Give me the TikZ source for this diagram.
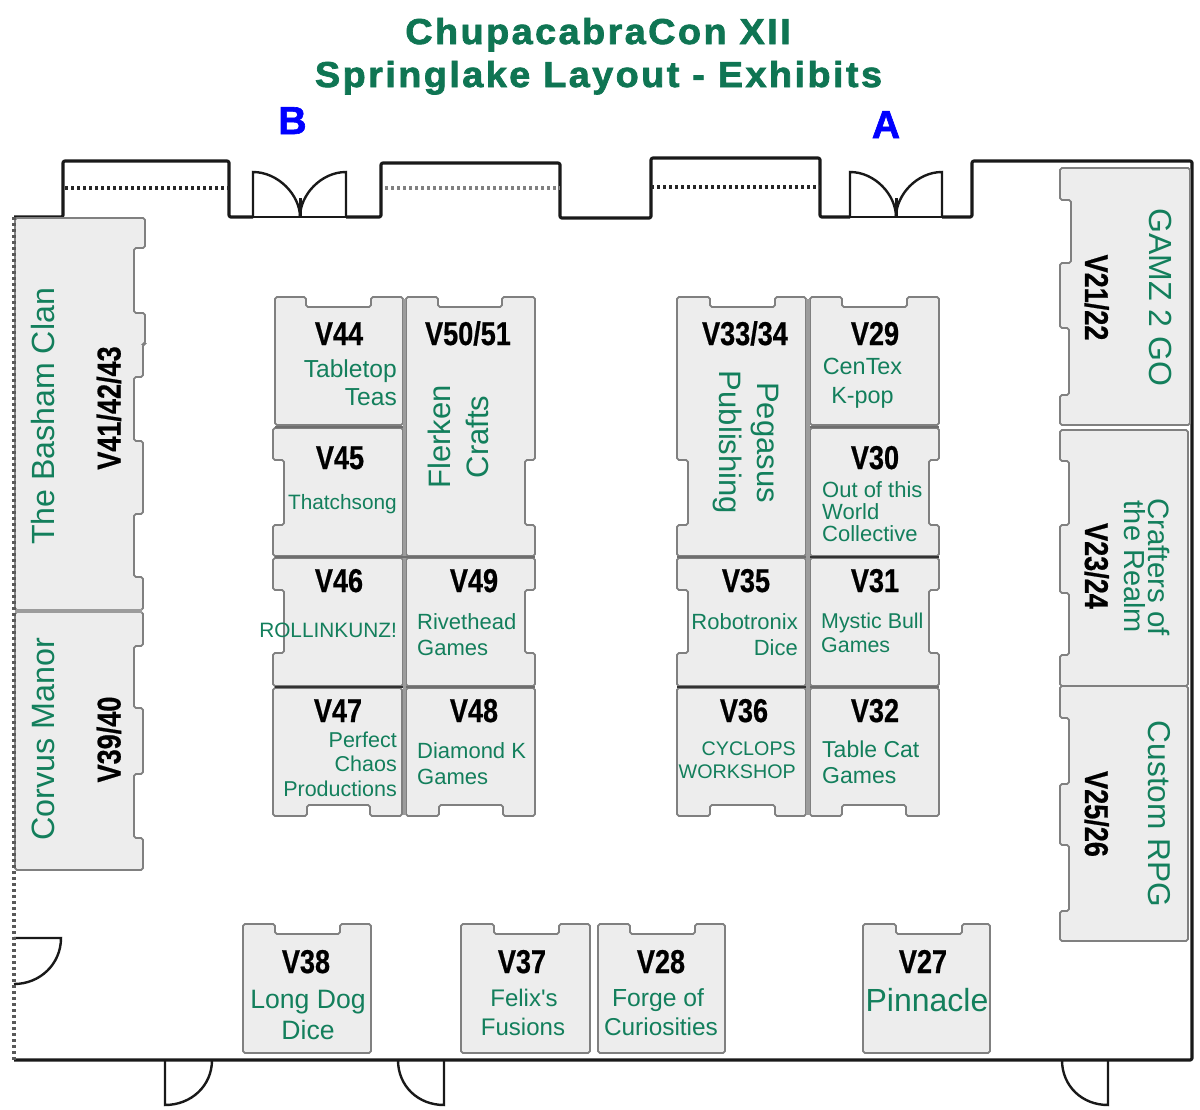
\documentclass[tikz,border=0pt]{standalone}
\usepackage{fontspec}
\setmainfont{Liberation Sans}
\newfontfamily\plainfont{Liberation Sans}
\newfontfamily\labfont[FakeStretch=0.82,FakeBold=0.6]{Liberation Sans}
\newfontfamily\titlefont[FakeStretch=1.05,LetterSpace=6.8,FakeBold=2]{Liberation Sans}
\newfontfamily\doorfont[FakeBold=1.6]{Liberation Sans}
\definecolor{namegreen}{HTML}{137F5C}
\definecolor{titlegreen}{HTML}{0F7553}
\definecolor{boothfill}{HTML}{EDEDED}
\definecolor{boothline}{HTML}{808080}
\definecolor{sepline}{HTML}{9C9C9C}
\definecolor{sepdark}{HTML}{6E6E6E}
\tikzset{
  booth/.style={draw=boothline,fill=boothfill,line width=1.8pt,rounded corners=1.8pt},
  wall/.style={draw=black!90,line width=3.2pt,line join=round},
  doorline/.style={draw=black!90,line width=2.4pt},
  dots/.style={draw=black!85,line width=3.4pt,dash pattern=on 3pt off 3pt},
  sep/.style={draw=sepline,line width=3.2pt},
  sepd/.style={draw=sepdark,line width=2.6pt},
  lab/.style={inner sep=0pt,text=black,font=\labfont\bfseries\fontsize{33}{36}\selectfont},
  nm/.style={inner sep=0pt,text=namegreen},
}
% booths with one notch: x0 y0 x1 y1 n0 n1
\newcommand\boothT[6]{\draw[booth] (#1,#2)--(#5,#2)--(#5,#2+10)--(#6,#2+10)--(#6,#2)--(#3,#2)--(#3,#4)--(#1,#4)--cycle;}
\newcommand\boothB[6]{\draw[booth] (#1,#2)--(#3,#2)--(#3,#4)--(#6,#4)--(#6,#4-11)--(#5,#4-11)--(#5,#4)--(#1,#4)--cycle;}
\newcommand\boothL[6]{\draw[booth] (#1,#2)--(#3,#2)--(#3,#4)--(#1,#4)--(#1,#6)--(#1+11,#6)--(#1+11,#5)--(#1,#5)--cycle;}
\newcommand\boothR[6]{\draw[booth] (#1,#2)--(#3,#2)--(#3,#5)--(#3-10,#5)--(#3-10,#6)--(#3,#6)--(#3,#4)--(#1,#4)--cycle;}
% text helpers: name x y(baseline) size anchor text
\newcommand\nm[6]{\node[nm,anchor=#5,font=\fontsize{#4}{#4}\selectfont] (#1) at (#2,#3) {#6};}
\newcommand\nmup[5]{\node[nm,rotate=90,anchor=base,font=\fontsize{#4}{#4}\selectfont] (#1) at (#2,#3) {#5};}
\newcommand\nmdn[5]{\node[nm,rotate=-90,anchor=base,font=\fontsize{#4}{#4}\selectfont] (#1) at (#2,#3) {#5};}
\newcommand\lab[4]{\node[lab,anchor=base] (#1) at (#2,#3) {#4};}
\newcommand\labup[4]{\node[lab,rotate=90,anchor=base] (#1) at (#2,#3) {#4};}
\newcommand\labdn[4]{\node[lab,rotate=-90,anchor=base] (#1) at (#2,#3) {#4};}
\begin{document}
\begin{tikzpicture}[x=1pt,y=-1pt]
\useasboundingbox (0,0) rectangle (1200,1109);
\fill[white] (0,0) rectangle (1200,1109);

% title
\node[inner sep=0pt,anchor=base,text=titlegreen,font=\titlefont\bfseries\fontsize{36}{38}\selectfont] (title1) at (598,44) {ChupacabraCon XII};
\node[inner sep=0pt,anchor=base,text=titlegreen,font=\titlefont\bfseries\fontsize{36}{38}\selectfont] (title2) at (598.5,87) {Springlake Layout - Exhibits};
\node[inner sep=0pt,anchor=base,text=blue,font=\doorfont\bfseries\fontsize{39}{40}\selectfont] (doorB) at (292.5,134) {B};
\node[inner sep=0pt,anchor=base,text=blue,font=\doorfont\bfseries\fontsize{39}{40}\selectfont] (doorA) at (886,138) {A};

% walls
\draw[wall,rounded corners=2pt] (14,217)--(63,217)--(63,161)--(229,161)--(229,217)--(253,217)
  (346,217)--(381,217)--(381,163)--(560,163)--(560,218)--(651,218)--(651,158)--(820,158)--(820,217)--(850,217)
  (942,217)--(972,217)--(972,161)--(1192,161)--(1192,1060)--(14,1060);
\draw[dots] (65,188)--(229,188);
\draw[dots,draw=black!50] (385,188)--(560,188);
\draw[dots] (651,187)--(820,187);

% entrance doors
\foreach \cx/\lx/\rx in {300/253/346,896/850/942}{
  \draw[doorline,line width=1.6pt] (\lx,217)--(\rx,217);
  \draw[doorline] (\lx,217)--(\lx,172) .. controls (\lx+25,172) and (\cx,195) .. (\cx,217);
  \draw[doorline] (\rx,217)--(\rx,172) .. controls (\rx-25,172) and (\cx,195) .. (\cx,217);
  \draw[doorline,line width=3pt] (\cx,198)--(\cx,217);
}
% side and bottom doors
\draw[doorline] (14,938)--(61,938) .. controls (61,964) and (40,984) .. (14,984);
\draw[doorline] (165,1060)--(165,1105) .. controls (191,1105) and (212,1086) .. (212,1060);
\draw[doorline] (444,1060)--(444,1105) .. controls (418,1105) and (398,1086) .. (398,1060);
\draw[doorline] (1108,1060)--(1108,1105) .. controls (1082,1105) and (1062,1086) .. (1062,1060);

% left column
\draw[booth] (15,218)--(145,218)--(145,248)--(134,248)--(134,313)--(145,313)--(145,344)--(143,344)--(143,377)--(134,377)--(134,441)--(143,441)--(143,514)--(134,514)--(134,577)--(143,577)--(143,610)--(15,610)--cycle;
\draw[booth] (15,612)--(143,612)--(143,646)--(134,646)--(134,708)--(143,708)--(143,774)--(134,774)--(134,838)--(143,838)--(143,870)--(15,870)--cycle;
\draw[sep] (15,611)--(142,611);
\draw[dots,draw=black!65] (14,217)--(14,1060);

% right column
\draw[booth] (1060,168)--(1190,168)--(1190,425)--(1060,425)--(1060,395)--(1069,395)--(1069,328)--(1060,328)--(1060,263)--(1071,263)--(1071,200)--(1060,200)--cycle;
\draw[booth] (1060,430)--(1188,430)--(1188,686)--(1060,686)--(1060,655)--(1069,655)--(1069,593)--(1060,593)--(1060,525)--(1069,525)--(1069,461)--(1060,461)--cycle;
\draw[booth] (1060,686)--(1188,686)--(1188,941)--(1060,941)--(1060,911)--(1069,911)--(1069,845)--(1060,845)--(1060,784)--(1069,784)--(1069,718)--(1060,718)--cycle;

% centre-left block
\boothT{275}{297}{403}{425}{306}{371}
\boothL{273}{428}{403}{556}{460}{525}
\boothL{273}{558}{403}{686}{590}{653}
\boothB{273}{688}{402}{816}{307}{370}
\draw[booth] (406,297)--(438,297)--(438,307)--(502,307)--(502,297)--(535,297)--(535,460)--(525,460)--(525,525)--(535,525)--(535,556)--(406,556)--cycle;
\boothR{406}{558}{535}{686}{590}{653}
\boothB{406}{688}{535}{816}{439}{503}
\draw[sep] (404.5,299)--(404.5,815);
\draw[sepd] (275,427)--(403,427);
\draw[sepd] (275,557)--(535,557);
\draw[sepd,draw=black!80] (275,687)--(403,687);
\draw[sepd] (406,687)--(535,687);

% centre-right block
\draw[booth] (677,297)--(710,297)--(710,307)--(775,307)--(775,297)--(806,297)--(806,556)--(677,556)--(677,525)--(688,525)--(688,460)--(677,460)--cycle;
\boothT{810}{297}{939}{425}{842}{907}
\boothR{810}{428}{939}{556}{460}{525}
\boothL{677}{558}{806}{686}{590}{653}
\boothR{810}{558}{939}{686}{590}{653}
\boothB{677}{688}{806}{816}{710}{775}
\boothB{810}{688}{939}{816}{842}{906}
\draw[sep] (808,299)--(808,815);
\draw[sepd] (810,427)--(939,427);
\draw[sepd] (677,557)--(806,557);
\draw[sepd,draw=black!80] (810,557)--(939,557);
\draw[sepd,draw=black!80] (677,687)--(806,687);
\draw[sepd] (810,687)--(939,687);

% bottom row
\boothT{243}{924}{371}{1053}{275}{340}
\boothT{461}{924}{590}{1053}{494}{559}
\boothT{598}{924}{725}{1053}{630}{695}
\boothT{863}{924}{990}{1053}{896}{962}

% booth numbers
\lab{v44}{339}{345}{V44}
\lab{v5051}{468}{345}{V50/51}
\lab{v45}{340}{469}{V45}
\lab{v46}{339}{592}{V46}
\lab{v49}{474}{592}{V49}
\lab{v47}{338}{722}{V47}
\lab{v48}{474}{722}{V48}
\lab{v3334}{745}{345}{V33/34}
\lab{v29}{875}{345}{V29}
\lab{v30}{875}{469}{V30}
\lab{v35}{746}{592}{V35}
\lab{v31}{875}{592}{V31}
\lab{v36}{744}{722}{V36}
\lab{v32}{875}{722}{V32}
\lab{v38}{306}{973}{V38}
\lab{v37}{522}{973}{V37}
\lab{v28}{661}{973}{V28}
\lab{v27}{923}{973}{V27}
\labup{v414243}{120.5}{408}{V41/42/43}
\labup{v3940}{120.5}{739.5}{V39/40}
\labdn{v2122}{1085}{297.5}{V21/22}
\labdn{v2324}{1085}{566}{V23/24}
\labdn{v2526}{1085}{814}{V25/26}

% exhibitor names
\nm{tabletop}{397}{377}{24.6}{base east}{Tabletop}
\nm{teas}{397}{405}{24.6}{base east}{Teas}
\nm{thatch}{397}{509}{20.8}{base east}{Thatchsong}
\nm{rollin}{397}{637}{20.8}{base east}{ROLLINKUNZ!}
\nm{rivet}{417}{629}{22}{base west}{Rivethead}
\nm{rivetg}{417}{655}{22}{base west}{Games}
\nm{diamond}{417}{758}{22}{base west}{Diamond K}
\nm{diamondg}{417}{784}{22}{base west}{Games}
\nm{perfect}{397}{747}{21.5}{base east}{Perfect}
\nm{chaos}{397}{771}{21.5}{base east}{Chaos}
\nm{prod}{397}{796}{21.5}{base east}{Productions}
\nmup{flerken}{450}{437}{31}{Flerken}
\nmup{crafts}{488}{437}{31}{Crafts}
\nmdn{pegasus}{757}{442.5}{31}{Pegasus}
\nmdn{publishing}{719}{442.5}{31}{Publishing}
\nm{centex}{862.5}{374}{23.4}{base}{CenTex}
\nm{kpop}{862.5}{403}{23.4}{base}{K-pop}
\nm{outof}{822}{497}{22}{base west}{Out of this}
\nm{world}{822}{519}{22}{base west}{World}
\nm{collective}{822}{541}{22}{base west}{Collective}
\nm{robo}{798}{629}{22}{base east}{Robotronix}
\nm{robod}{798}{655}{22}{base east}{Dice}
\nm{mystic}{821}{628}{21.4}{base west}{Mystic Bull}
\nm{mysticg}{821}{652}{21.4}{base west}{Games}
\nm{cyclops}{796}{755}{19.7}{base east}{CYCLOPS}
\nm{workshop}{796}{778}{19.7}{base east}{WORKSHOP}
\nm{tablecat}{822}{757}{23}{base west}{Table Cat}
\nm{tablecatg}{822}{783}{23}{base west}{Games}
\nm{longdog}{308}{1008}{26.6}{base}{Long Dog}
\nm{dice}{308}{1039}{26.6}{base}{Dice}
\nm{felix}{524}{1006}{24}{base}{\plainfont Felix's}
\nm{fusions}{523}{1035}{24}{base}{Fusions}
\nm{forge}{658}{1006}{24.7}{base}{Forge of}
\nm{curio}{661}{1035}{24.4}{base}{Curiosities}
\nm{pinnacle}{927}{1011}{32}{base}{Pinnacle}
\nmup{basham}{54}{416.5}{32.1}{The Basham Clan}
\nmup{corvus}{54}{739.5}{32.3}{Corvus Manor}
\nmdn{gamz}{1149}{297.5}{32}{GAMZ 2 GO}
\nmdn{crafters}{1148}{567}{29.5}{Crafters of}
\nmdn{realm}{1124}{567}{29}{the Realm}
\nmdn{custom}{1148}{814}{31.6}{Custom RPG}
\end{tikzpicture}
\end{document}
